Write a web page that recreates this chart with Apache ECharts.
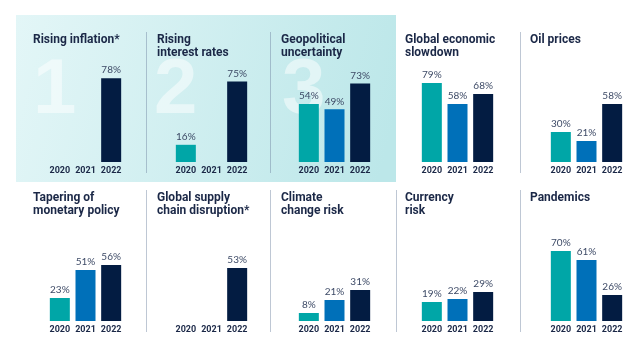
<!DOCTYPE html>
<html>
<head>
<meta charset="utf-8">
<script src="https://cdn.jsdelivr.net/npm/echarts@6/dist/echarts.min.js"></script>
<style>
html,body{margin:0;padding:0;background:#fff;}
#chart{width:640px;height:350px;}
</style>
</head>
<body>
<div id="chart"></div>
<script>
// ---- data ----
const years = ["2020", "2021", "2022"];
const titles = [
  "Rising inflation*", "Rising\ninterest rates", "Geopolitical\nuncertainty",
  "Global economic\nslowdown", "Oil prices",
  "Tapering of\nmonetary policy", "Global supply\nchain disruption*", "Climate\nchange risk",
  "Currency\nrisk", "Pandemics"
];
const risingInflation = [null, null, 78];
const interestRates   = [16, null, 75];
const geopolitical    = [54, 49, 73];
const slowdown        = [79, 58, 68];
const oilPrices       = [30, 21, 58];
const tapering        = [23, 51, 56];
const supplyChain     = [null, null, 53];
const climateRisk     = [8, 21, 31];
const currencyRisk    = [19, 22, 29];
const pandemics       = [70, 61, 26];
const rankLabels = ["1", "2", "3"];

const panelValues = [risingInflation, interestRates, geopolitical, slowdown, oilPrices,
                     tapering, supplyChain, climateRisk, currencyRisk, pandemics];

// ---- styling / layout ----
const barColors = ["#00a6a7", "#0070b9", "#031c42"];
const FONT = "Roboto, 'Liberation Sans', Arial, sans-serif";
const LFONT = "Lato, 'Liberation Sans', Arial, sans-serif";
const colLeft = [47, 173, 296, 419, 548];
const titleLeft = [33, 157, 281, 405, 530];
const titleTop = [33, 191];

const grids = [], xAxes = [], yAxes = [], series = [], titleComps = [];
panelValues.forEach((vals, i) => {
  const row = i < 5 ? 0 : 1, col = i % 5;
  const shaded = row === 0 && col < 3;
  let top, height;
  if (row === 0) { height = shaded ? 107.5 : 100; top = 162 - height; }
  else { height = 100; top = 221; }
  grids.push({ left: colLeft[col], top: top, width: 77, height: height });
  xAxes.push({
    type: "category", gridIndex: i, data: years,
    axisLine: { show: false }, axisTick: { show: false },
    axisLabel: { interval: 0, margin: 4, fontSize: 9, fontWeight: "bold", color: "#1b2847", fontFamily: FONT }
  });
  yAxes.push({ type: "value", gridIndex: i, min: 0, max: 100, show: false, splitLine: { show: false } });
  series.push({
    type: "bar", xAxisIndex: i, yAxisIndex: i, data: vals, barWidth: 20,
    itemStyle: { color: p => barColors[p.dataIndex] },
    label: { show: true, position: "top", distance: 3, formatter: "{c}%",
             fontSize: 10, color: "#3d4a66", fontFamily: LFONT },
    silent: true, animation: false
  });
  titleComps.push({
    text: titles[i], left: titleLeft[col], top: titleTop[row], padding: 0,
    textStyle: { fontSize: 12, fontWeight: "bold", color: "#1b2847", lineHeight: 13.2, fontFamily: FONT }
  });
});

const graphics = [
  { type: "rect", z: -10, shape: { x: 16, y: 15, width: 380, height: 167 },
    style: { fill: { type: "linear", x: 0, y: 0, x2: 1, y2: 0.6,
      colorStops: [{ offset: 0, color: "#e3f6f7" }, { offset: 1, color: "#bce7e9" }] } } }
];
const digitX = [33, 154, 282];
rankLabels.forEach((d, k) => {
  graphics.push({ type: "text", z: -5, x: digitX[k], y: 91,
    style: { text: d, fontSize: 78, fontWeight: "bold", fontFamily: "'Liberation Sans', Arial, sans-serif",
             fill: "rgba(255,255,255,0.5)", verticalAlign: "middle", align: "left" } });
});
const divTop = [[146, 270, 520], [146, 270, 396, 520]];
const divY = [[32, 173], [190, 332]];
divTop.forEach((xs, r) => xs.forEach(x => {
  graphics.push({ type: "line", z: -4,
    shape: { x1: x + 0.5, y1: divY[r][0], x2: x + 0.5, y2: divY[r][1] },
    style: { stroke: "rgba(110,130,160,0.45)", lineWidth: 1 } });
}));

const chart = echarts.init(document.getElementById("chart"), null, { renderer: "canvas" });
chart.setOption({
  animation: false,
  backgroundColor: "#ffffff",
  title: titleComps,
  grid: grids, xAxis: xAxes, yAxis: yAxes, series: series,
  graphic: graphics
});
</script>
</body>
</html>
